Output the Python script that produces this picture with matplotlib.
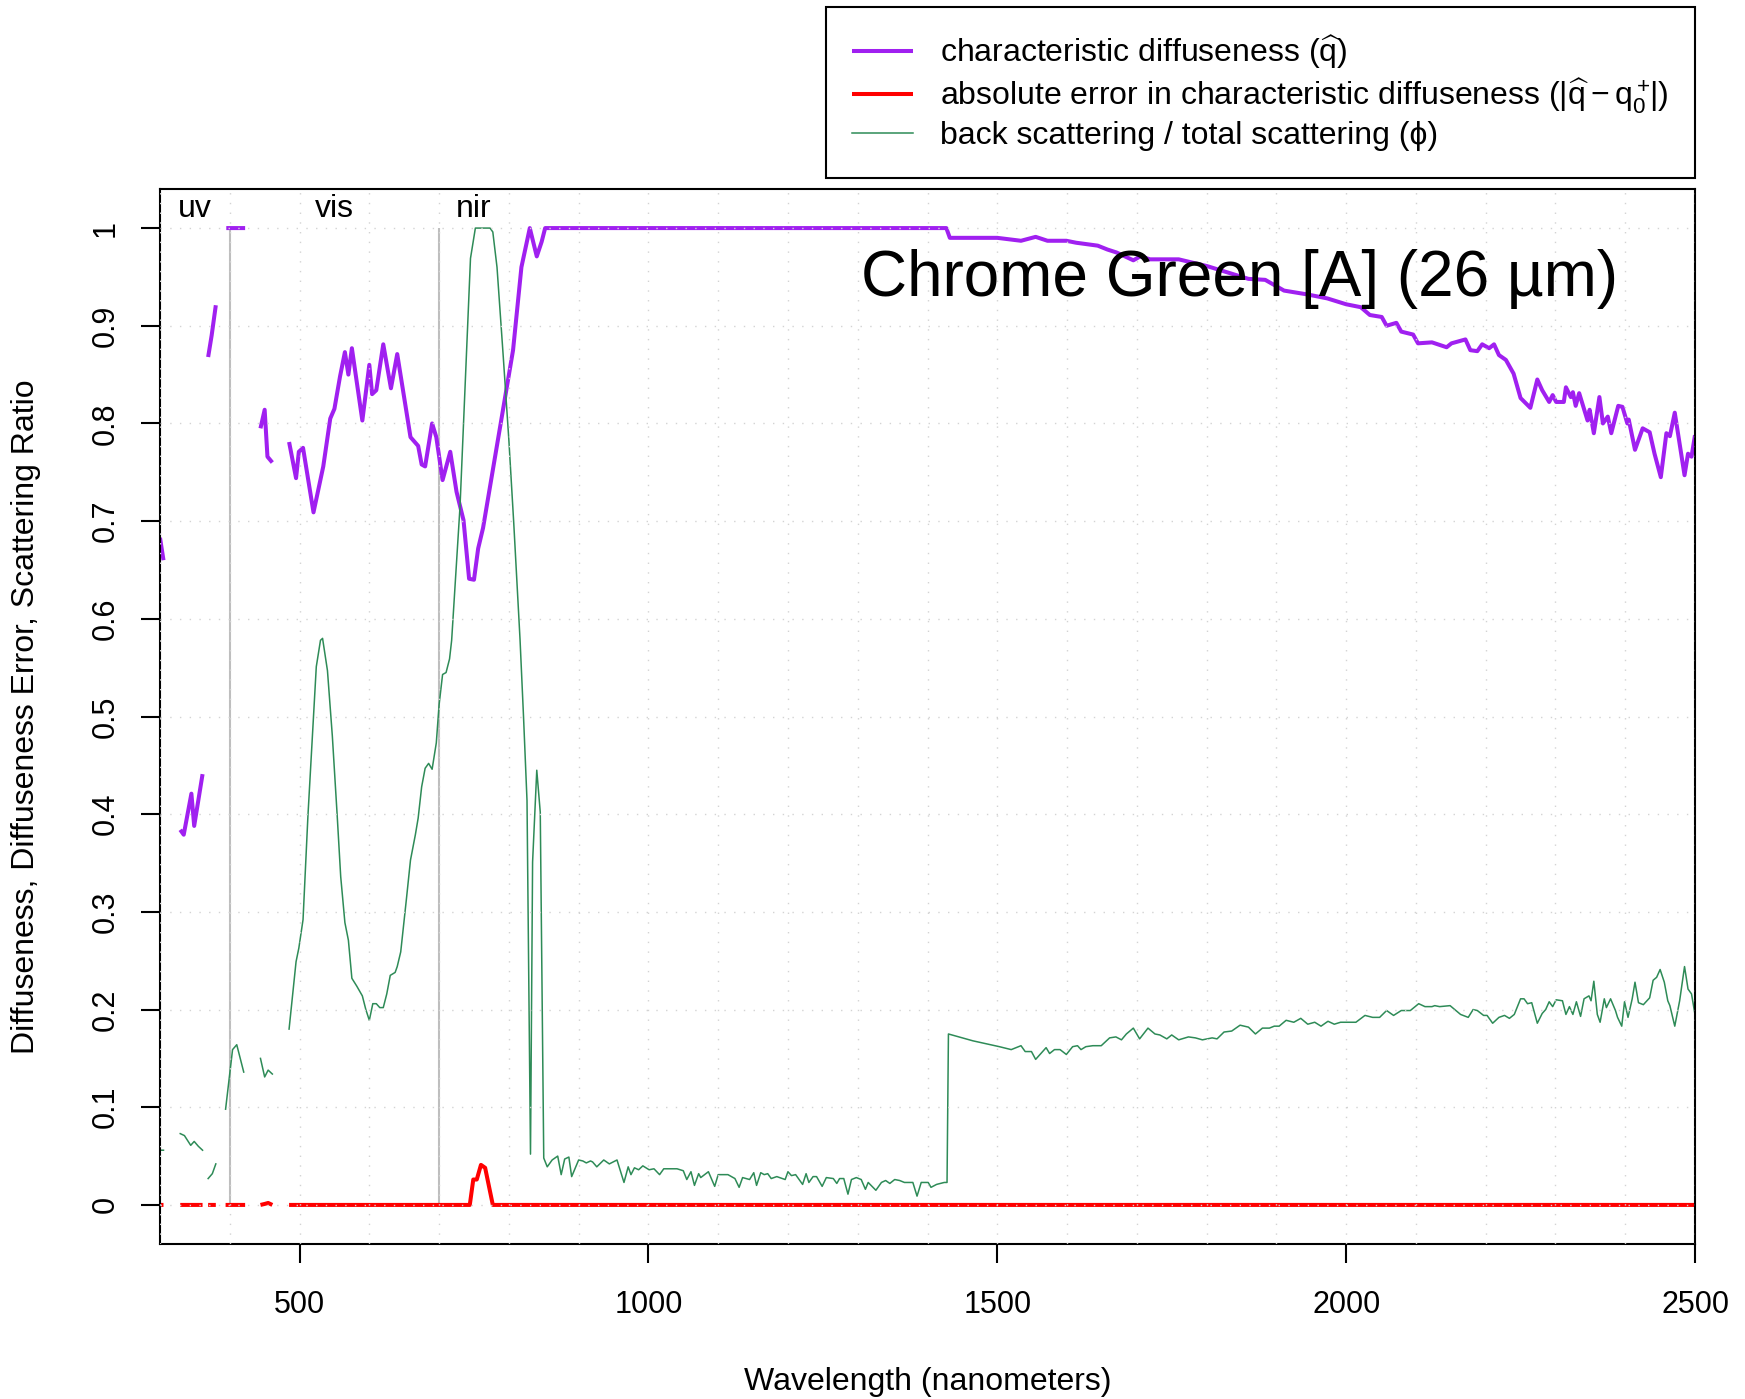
import numpy as np
import matplotlib
matplotlib.use('Agg')
import matplotlib.pyplot as plt

plt.rcParams['font.family'] = ['Liberation Sans', 'DejaVu Sans']
plt.rcParams['mathtext.fontset'] = 'custom'
plt.rcParams['mathtext.rm'] = 'Liberation Sans'
plt.rcParams['mathtext.it'] = 'Liberation Sans:italic'
plt.rcParams['mathtext.bf'] = 'Liberation Sans:bold'

N = None  # gap between measured segments

# characteristic diffuseness (q hat), (wavelength nm, value)
qhat = [(300, 0.683), (305, 0.660), N,
        (329, 0.384), (334, 0.379), (345, 0.421), (349, 0.388), (361, 0.441), N,
        (369, 0.868), (374, 0.890), (380, 0.921), N,
        (395, 1.0), (422, 1.0), N,
        (444, 0.795), (450, 0.814), (454, 0.766), (461, 0.760), N,
        (485, 0.781), (495, 0.744), (499, 0.771), (505, 0.775), (520, 0.709), (534, 0.756),
        (544, 0.805), (550, 0.815), (558, 0.848), (565, 0.873), (570, 0.850), (575, 0.877),
        (590, 0.803), (600, 0.860), (604, 0.830), (610, 0.834), (620, 0.881), (631, 0.836),
        (640, 0.871), (659, 0.786), (670, 0.777), (675, 0.758), (680, 0.756), (690, 0.800),
        (696, 0.786), (705, 0.742), (716, 0.771), (725, 0.730), (735, 0.701), (743, 0.641),
        (750, 0.640), (756, 0.672), (763, 0.693), (806, 0.875), (818, 0.960), (830, 1.0),
        (840, 0.971), (847, 0.986), (852, 1.0), (1427, 1.0), (1432, 0.990), (1500, 0.990),
        (1534, 0.987), (1555, 0.991), (1572, 0.987), (1599, 0.987), (1613, 0.985), (1644, 0.982),
        (1658, 0.978), (1671, 0.975), (1695, 0.967), (1705, 0.971), (1719, 0.968), (1760, 0.968),
        (1801, 0.961), (1842, 0.952), (1860, 0.948), (1884, 0.947), (1911, 0.936), (1945, 0.932),
        (1973, 0.928), (2000, 0.922), (2021, 0.919), (2034, 0.911), (2051, 0.909), (2058, 0.900),
        (2072, 0.903), (2079, 0.894), (2096, 0.891), (2103, 0.882), (2123, 0.883), (2144, 0.878),
        (2151, 0.882), (2171, 0.886), (2178, 0.875), (2188, 0.874), (2195, 0.881), (2205, 0.877),
        (2212, 0.881), (2219, 0.870), (2229, 0.865), (2240, 0.851), (2250, 0.826), (2264, 0.816),
        (2274, 0.845), (2281, 0.834), (2291, 0.822), (2296, 0.829), (2301, 0.822), (2312, 0.822),
        (2315, 0.837), (2322, 0.827), (2325, 0.832), (2329, 0.818), (2334, 0.831), (2346, 0.803),
        (2349, 0.814), (2355, 0.790), (2363, 0.827), (2368, 0.800), (2375, 0.807), (2380, 0.790),
        (2390, 0.818), (2396, 0.817), (2403, 0.800), (2405, 0.804), (2414, 0.773), (2425, 0.795),
        (2435, 0.791), (2442, 0.769), (2451, 0.745), (2459, 0.790), (2464, 0.787), (2471, 0.811),
        (2485, 0.747), (2490, 0.769), (2495, 0.766), (2500, 0.788)]

# absolute error in characteristic diffuseness
qerr = [(300, 0.0), (305, 0.0), N,
        (329, 0.0), (361, 0.0), N,
        (369, 0.0), (380, 0.0), N,
        (394, 0.0), (422, 0.0), N,
        (444, 0.0), (450, 0.001), (455, 0.002), (461, 0.0), N,
        (485, 0.0), (744, 0.0), (749, 0.026), (754, 0.026), (760, 0.041), (766, 0.038),
        (777, 0.0), (2500, 0.0)]

# back scattering / total scattering (phi)
phi = [(300, 0.056), (305, 0.056), N,
       (329, 0.073), (335, 0.071), (344, 0.061), (349, 0.065), (355, 0.060), (361, 0.056), N,
       (369, 0.027), (375, 0.032), (380, 0.042), N,
       (394, 0.098), (404, 0.159), (410, 0.164), (420, 0.136), N,
       (444, 0.150), (450, 0.131), (455, 0.138), (461, 0.134), N,
       (485, 0.180), (495, 0.249), (499, 0.263), (505, 0.292), (512, 0.398), (520, 0.500),
       (524, 0.551), (530, 0.578), (533, 0.580), (540, 0.547), (547, 0.480), (554, 0.398),
       (559, 0.336), (565, 0.289), (570, 0.271), (575, 0.232), (582, 0.224), (590, 0.214),
       (595, 0.200), (600, 0.189), (605, 0.206), (610, 0.206), (615, 0.202), (620, 0.202),
       (625, 0.216), (630, 0.235), (637, 0.238), (640, 0.244), (645, 0.259), (653, 0.312),
       (659, 0.353), (666, 0.379), (670, 0.396), (675, 0.428), (680, 0.447), (685, 0.452),
       (690, 0.446), (696, 0.473), (700, 0.512), (705, 0.543), (710, 0.545), (715, 0.559),
       (718, 0.578), (730, 0.715), (737, 0.834), (745, 0.969), (752, 1.0), (773, 1.0),
       (777, 0.996), (783, 0.960), (792, 0.868), (800, 0.783), (807, 0.698), (816, 0.579),
       (821, 0.500), (826, 0.414), (831, 0.052), (834, 0.351), (840, 0.445), (845, 0.402),
       (850, 0.048), (855, 0.039), (862, 0.046), (870, 0.050), (875, 0.031), (880, 0.047),
       (886, 0.049), (890, 0.029), (900, 0.046), (906, 0.045), (911, 0.043), (917, 0.045),
       (920, 0.044), (926, 0.039), (936, 0.046), (944, 0.042), (955, 0.046), (965, 0.023),
       (971, 0.039), (975, 0.031), (980, 0.038), (986, 0.036), (992, 0.040), (1001, 0.036),
       (1008, 0.037), (1016, 0.031), (1022, 0.037), (1031, 0.037), (1041, 0.037), (1050, 0.035),
       (1055, 0.026), (1061, 0.034), (1066, 0.020), (1072, 0.032), (1075, 0.028), (1086, 0.034),
       (1095, 0.019), (1100, 0.031), (1114, 0.031), (1124, 0.027), (1130, 0.018), (1135, 0.028),
       (1145, 0.026), (1151, 0.033), (1155, 0.020), (1161, 0.033), (1166, 0.031), (1171, 0.032),
       (1176, 0.027), (1184, 0.029), (1196, 0.026), (1200, 0.034), (1205, 0.030), (1211, 0.031),
       (1221, 0.021), (1226, 0.032), (1230, 0.023), (1236, 0.029), (1241, 0.029), (1249, 0.019),
       (1255, 0.028), (1265, 0.027), (1270, 0.022), (1274, 0.027), (1280, 0.027), (1286, 0.011),
       (1291, 0.026), (1298, 0.028), (1305, 0.026), (1311, 0.016), (1315, 0.023), (1326, 0.015),
       (1334, 0.023), (1340, 0.025), (1346, 0.022), (1353, 0.026), (1360, 0.025), (1367, 0.023),
       (1379, 0.023), (1385, 0.009), (1391, 0.023), (1401, 0.023), (1405, 0.018), (1413, 0.021),
       (1424, 0.023), (1428, 0.023), (1430, 0.175), (1465, 0.168), (1503, 0.162), (1520, 0.159),
       (1534, 0.163), (1540, 0.157), (1549, 0.157), (1555, 0.149), (1570, 0.161), (1575, 0.155),
       (1582, 0.159), (1590, 0.159), (1599, 0.154), (1608, 0.162), (1615, 0.163), (1620, 0.159),
       (1627, 0.162), (1637, 0.163), (1649, 0.163), (1661, 0.171), (1670, 0.172), (1678, 0.169),
       (1685, 0.175), (1695, 0.181), (1704, 0.170), (1716, 0.181), (1726, 0.175), (1733, 0.174),
       (1743, 0.170), (1750, 0.174), (1760, 0.169), (1774, 0.172), (1784, 0.171), (1794, 0.169),
       (1808, 0.171), (1815, 0.170), (1825, 0.177), (1836, 0.178), (1848, 0.184), (1860, 0.182),
       (1870, 0.175), (1880, 0.181), (1890, 0.181), (1897, 0.183), (1904, 0.183), (1914, 0.189),
       (1925, 0.187), (1935, 0.191), (1945, 0.185), (1955, 0.187), (1964, 0.183), (1974, 0.188),
       (1983, 0.185), (1992, 0.187), (2000, 0.187), (2014, 0.187), (2027, 0.194), (2038, 0.192),
       (2048, 0.192), (2058, 0.199), (2068, 0.194), (2079, 0.199), (2092, 0.199), (2104, 0.206),
       (2113, 0.203), (2123, 0.203), (2127, 0.204), (2134, 0.203), (2149, 0.204), (2164, 0.195),
       (2175, 0.192), (2182, 0.200), (2188, 0.199), (2197, 0.194), (2202, 0.194), (2210, 0.186),
       (2219, 0.192), (2227, 0.194), (2234, 0.191), (2241, 0.195), (2250, 0.211), (2255, 0.211),
       (2260, 0.206), (2266, 0.207), (2274, 0.186), (2281, 0.196), (2286, 0.200), (2291, 0.208),
       (2296, 0.203), (2301, 0.210), (2310, 0.209), (2315, 0.195), (2320, 0.203), (2325, 0.195),
       (2330, 0.208), (2336, 0.193), (2341, 0.211), (2348, 0.214), (2351, 0.209), (2355, 0.229),
       (2360, 0.195), (2364, 0.187), (2370, 0.211), (2373, 0.202), (2379, 0.211), (2386, 0.199),
       (2389, 0.192), (2395, 0.183), (2399, 0.208), (2404, 0.192), (2410, 0.211), (2414, 0.228),
       (2419, 0.207), (2426, 0.205), (2435, 0.212), (2440, 0.230), (2445, 0.233), (2450, 0.241),
       (2456, 0.228), (2461, 0.209), (2464, 0.204), (2471, 0.183), (2478, 0.209), (2485, 0.244),
       (2490, 0.221), (2495, 0.216), (2500, 0.195)]

region_names = ['uv', 'vis', 'nir']
region_centers = [350, 550, 750]
region_bounds = [400, 700]
x_ticks = [500, 1000, 1500, 2000, 2500]
y_ticks = [0, 0.1, 0.2, 0.3, 0.4, 0.5, 0.6, 0.7, 0.8, 0.9, 1.0]
y_tick_labels = ['0', '0.1', '0.2', '0.3', '0.4', '0.5', '0.6', '0.7', '0.8', '0.9', '1']
title = 'Chrome Green [A] (26 µm)'


def split(series):
    # turn (x, y) pairs with None gaps into arrays with NaN breaks
    x = np.array([np.nan if p is None else p[0] for p in series], dtype=float)
    y = np.array([np.nan if p is None else p[1] for p in series], dtype=float)
    return x, y


fig = plt.figure(figsize=(17.45, 13.99), dpi=100)
ax = fig.add_axes([160 / 1745, 1 - 1244 / 1399, 1535 / 1745, 1055 / 1399])

ax.vlines(region_bounds, 0, 1, color='#bebebe', lw=1.5, zorder=1)

x, y = split(qhat)
ax.plot(x, y, color='#a020f0', lw=2.9, solid_capstyle='butt',
        label=r'characteristic diffuseness ($\widehat{\mathrm{q}}$)')
x, y = split(qerr)
ax.plot(x, y, color='#ff0000', lw=2.9, solid_capstyle='butt',
        label=r'absolute error in characteristic diffuseness ($|\widehat{\mathrm{q}} - \mathrm{q}_0^+\!|$)')
x, y = split(phi)
ax.plot(x, y, color='#2e8b57', lw=1.1,
        label='back scattering / total scattering (ϕ)')

ax.set_xlim(300, 2500)
ax.set_ylim(-0.04, 1.04)
ax.set_xticks(x_ticks)
ax.set_xticks(np.arange(300, 2501, 100), minor=True)
ax.set_yticks(y_ticks)
ax.set_yticklabels(y_tick_labels, rotation=90, va='center')
ax.tick_params(which='major', direction='out', length=14, width=1.5, labelsize=22)
ax.tick_params(which='minor', length=0)
ax.tick_params(axis='x', pad=19)
ax.tick_params(axis='y', pad=14)

ax.set_axisbelow(False)
ax.grid(which='both', color='#d3d3d3', linestyle=(0, (1, 6)), lw=1.0)

for s in ax.spines.values():
    s.set_linewidth(1.5)

for name, c in zip(region_names, region_centers):
    ax.text(c, 1.02, name, fontsize=23, ha='center', va='center')

ax.text(1847, 0.9305, title, fontsize=46, ha='center', va='baseline')

ax.set_xlabel('Wavelength (nanometers)', fontsize=23)
ax.xaxis.set_label_coords(0.5, -0.131)
ax.xaxis.label.set_va('center')
ax.set_ylabel('Diffuseness, Diffuseness Error, Scattering Ratio', fontsize=23)
ax.yaxis.set_label_coords(-0.087, 0.5)
ax.yaxis.label.set_va('center')

leg = ax.legend(loc='upper right', bbox_to_anchor=(1695 / 1745, 1 - 7 / 1399),
                bbox_transform=fig.transFigure, fontsize=23, frameon=True,
                fancybox=False, edgecolor='black', framealpha=1, borderaxespad=0,
                handlelength=1.88, handletextpad=0.86, borderpad=0.83, labelspacing=0.16)
leg.get_frame().set_linewidth(1.5)

fig.savefig('out.png', dpi=100)
